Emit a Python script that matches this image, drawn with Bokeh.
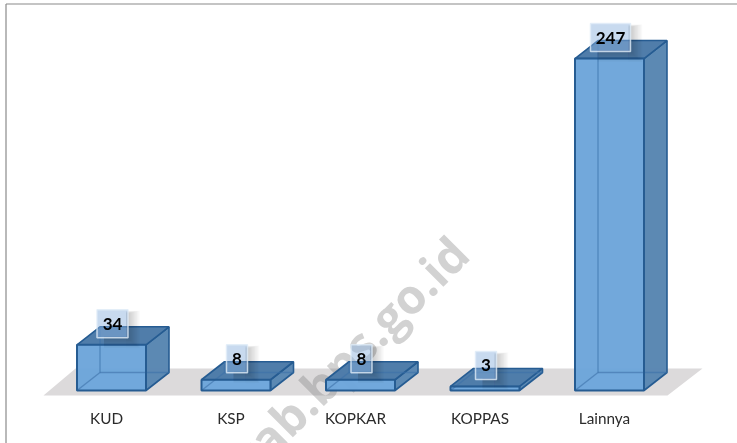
import math
from bokeh.plotting import figure
from bokeh.embed import file_html
from bokeh.resources import INLINE
from bokeh.core.properties import value
from bokeh.models import ColumnDataSource

categories = ["KUD", "KSP", "KOPKAR", "KOPPAS", "Lainnya"]
values = [34, 8, 8, 3, 247]
watermark = "kab.bps.go.id"

W, H = 737, 443
STEP = 124.5      # px per category
UNIT = 1.344      # px per value
X0, Y0 = 111.0, 390.0
ux = lambda px: px / STEP
uy = lambda px: px / UNIT
fx = lambda px: (px - X0) / STEP
fy = lambda px: (Y0 - px) / UNIT

p = figure(width=W, height=H, output_backend="svg", toolbar_location=None,
           x_range=(fx(0), fx(W)), y_range=(fy(H), fy(0)), min_border=0,
           outline_line_color=None, background_fill_color="white",
           border_fill_color="white")
p.axis.visible = False
p.grid.visible = False
p.styles = {"position": "fixed", "left": "0px", "top": "0px"}

# frame lines
p.line([fx(5.5), fx(5.5)], [fy(H), fy(3.5)], line_color="#8a8a8a", line_width=1.2)
p.line([fx(5.5), fx(W)], [fy(3.5), fy(3.5)], line_color="#8a8a8a", line_width=1.2)

# floor
p.patch([fx(43), fx(75), fx(702), fx(667)], [fy(395), fy(368), fy(368), fy(395)],
        fill_color="#dcdadb", line_color=None)

# watermark, behind the boxes
p.text(x=[fx(459)], y=[fy(244)], text=[watermark], angle=math.radians(45), text_align="right",
       text_baseline="alphabetic", text_font=value("Open Sans"), text_font_style="bold",
       text_font_size="48px", text_color="#777777", text_alpha=0.33)

HW = 34.5
DX, DY = 23, 18
EDGE = "#265c92"
INNER = "#3a70a8"
for i, (c, v) in enumerate(zip(categories, values)):
    l, r = i - ux(HW), i + ux(HW)
    b, t = 0, v
    dx, dy = ux(DX), uy(DY)
    # back wall, left wall and floor of the box
    p.patch([l+dx, r+dx, r+dx, l+dx], [b+dy, b+dy, t+dy, t+dy], fill_color="#6a9fd0",
            fill_alpha=0.85, line_color=None)
    p.patch([l, l+dx, l+dx, l], [b, b+dy, t+dy, t], fill_color="#6a9fd0",
            fill_alpha=0.85, line_color=None)
    p.patch([l, r, r+dx, l+dx], [b, b, b+dy, b+dy], fill_color="#6fa6db",
            fill_alpha=0.85, line_color=None)
    # side
    p.patch([r, r+dx, r+dx, r], [b, b+dy, t+dy, t], fill_color="#5b87b2", fill_alpha=0.97,
            line_color=EDGE, line_width=1.6)
    # top
    p.patch([l, r, r+dx, l+dx], [t, t, t+dy, t+dy], fill_color="#4d7aa8", fill_alpha=0.95,
            line_color=EDGE, line_width=1.6)
    # front
    p.patch([l, r, r, l], [b, b, t, t], fill_color="#6ea6dc", fill_alpha=0.8,
            line_color=None)
    # back edges seen through the front
    p.multi_line([[l, l+dx], [l+dx, r+dx], [l+dx, l+dx]], [[b, b+dy], [b+dy, b+dy], [b+dy, t+dy]],
                 line_color=INNER, line_alpha=0.6, line_width=1.3)
    p.patch([l, r, r, l], [b, b, t, t], fill_alpha=0, line_color=EDGE, line_width=2)

    # label box with a soft shadow on its right and lower side
    label = str(v)
    bw = {1: 21, 2: 31, 3: 40}[len(label)]
    cy = t + uy(21)
    bh = 28
    L, R = i + ux(1 - bw/2), i + ux(1 + bw/2)
    T, B = cy + uy(bh/2), cy - uy(bh/2)
    for g in range(7, -1, -1):
        p.quad(left=R - ux(2), right=R + ux(2 + g*1.4),
               top=T - uy(3 - g*0.3), bottom=B - uy(2 + g*1.2),
               fill_color="#000000", fill_alpha=0.024, line_color=None)
        p.quad(left=L + ux(7), right=R - ux(2),
               top=B + uy(1), bottom=B - uy(1 + g*1.3),
               fill_color="#000000", fill_alpha=0.024, line_color=None)
    p.quad(left=L, right=R, bottom=B, top=T,
           fill_color="#8ab1de", fill_alpha=0.47, line_color="#e0ecf7", line_alpha=0.8, line_width=1.5)
    p.text(x=[i + ux(1)], y=[cy], text=[label], text_align="center", text_baseline="middle",
           text_font=value("Lato"), text_font_style="bold", text_font_size="17px",
           text_color="#000000")

src = ColumnDataSource(dict(x=list(range(len(categories))), y=[fy(417)]*len(categories), t=categories))
p.text(x="x", y="y", text="t", source=src, text_align="center", text_baseline="middle",
       x_offset=-5, text_font=value("Lato"), text_font_size="15.3px", text_color="#2b2b2b")

open("out.html", "w").write(file_html(p, INLINE))
